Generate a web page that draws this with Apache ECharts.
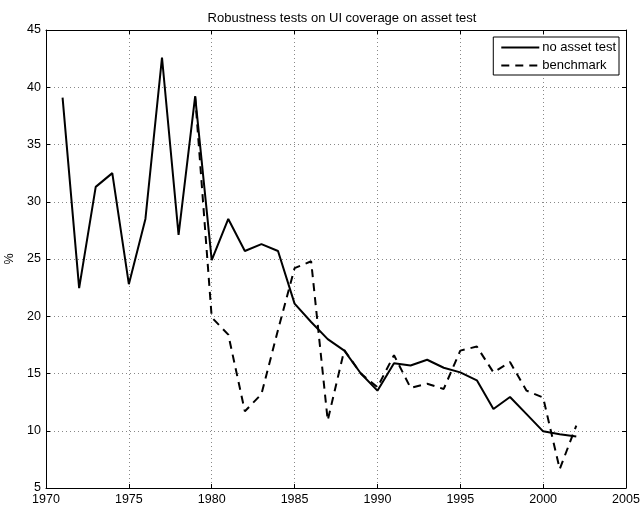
<!DOCTYPE html>
<html><head><meta charset="utf-8">
<script src="https://cdn.jsdelivr.net/npm/echarts@6/dist/echarts.min.js"></script>
<style>html,body{margin:0;padding:0;background:#fff}#c{width:644px;height:510px}</style>
</head><body><div id="c"></div>
<script>
var titleText = 'Robustness tests on UI coverage on asset test';
var seriesNames = ['no asset test', 'benchmark'];
var yearsA = [1971,1972,1973,1974,1975,1976,1977,1978,1979,1980,1981,1982,1983,1984,1985,1986,1987,1988,1989,1990,1991,1992,1993,1994,1995,1996,1997,1998,1999,2000,2001,2002];
var noAssetTest = [39.1,22.45,31.3,32.5,22.8,28.5,42.6,27.1,39.2,24.9,28.5,25.7,26.3,25.7,21.1,19.5,18.0,17.0,15.0,13.5,15.9,15.7,16.2,15.5,15.1,14.4,11.9,12.95,11.45,9.95,9.7,9.5];
var yearsB = [1979,1980,1981,1982,1983,1984,1985,1986,1987,1988,1989,1990,1991,1992,1993,1994,1995,1996,1997,1998,1999,2000,2001,2002];
var benchmark = [39.2,19.9,18.4,11.7,13.2,18.8,24.2,24.8,10.9,17.05,15.0,13.8,16.6,13.75,14.1,13.65,17.0,17.35,15.1,16.0,13.5,12.9,6.65,10.45];
var xTicks = {min:1970, max:2005, interval:5};
var yTicks = {min:5, max:45, interval:5};

function pairs(xs, ys){ return xs.map(function(x,i){ return [x, ys[i]]; }); }

var font = 'Liberation Sans, Arial, Helvetica, sans-serif';
var chart = echarts.init(document.getElementById('c'), null, {renderer:'canvas'});
var baseAxis = function(extra){
  return Object.assign({
    type:'value',
    axisLine:{show:true, onZero:false, lineStyle:{color:'#000', width:1}},
    axisTick:{show:true, inside:true, length:4, lineStyle:{color:'#000'}},
    axisLabel:{show:true, color:'#000', fontFamily:font, fontSize:12.5},
    splitLine:{show:false}
  }, extra);
};
chart.setOption({
  animation:false,
  backgroundColor:'#fff',
  title:{text:titleText, left:337, top:7, textAlign:'center',
    textStyle:{fontFamily:font, fontSize:13, fontWeight:'normal', color:'#000'}},
  grid:{left:46, right:18, top:30, bottom:22, containLabel:false, outerBoundsMode:'none'},
  legend:{
    right:25, top:37, orient:'vertical', itemGap:5, itemWidth:38, itemHeight:10,
    padding:[4,3,3,7], borderColor:'#000', borderWidth:1, backgroundColor:'#fff', borderRadius:0,
    textStyle:{fontFamily:font, fontSize:13, color:'#000', padding:[0,0,0,-2]},
    itemStyle:{opacity:0},
    data:seriesNames
  },
  xAxis:[
    baseAxis({min:xTicks.min, max:xTicks.max, interval:xTicks.interval, position:'bottom',
      axisLabel:{color:'#000', fontFamily:font, fontSize:12.5, margin:5, formatter:function(v){return String(v);}},
      splitLine:{show:true, lineStyle:{color:'#888', type:[1,3], width:1}}}),
    baseAxis({min:xTicks.min, max:xTicks.max, interval:xTicks.interval, position:'top',
      axisLabel:{show:false}})
  ],
  yAxis:[
    baseAxis({min:yTicks.min, max:yTicks.max, interval:yTicks.interval, position:'left',
      name:'%', nameLocation:'middle', nameGap:30, nameMoveOverlap:false,
      nameTextStyle:{fontFamily:font, fontSize:12.5, color:'#000'},
      axisLabel:{color:'#000', fontFamily:font, fontSize:12.5, margin:5},
      splitLine:{show:true, lineStyle:{color:'#888', type:[1,3], width:1}}}),
    baseAxis({min:yTicks.min, max:yTicks.max, interval:yTicks.interval, position:'right',
      axisLabel:{show:false}})
  ],
  series:[
    {name:seriesNames[0], type:'line', data:pairs(yearsA, noAssetTest), showSymbol:false, symbol:'none',
      lineStyle:{color:'#000', width:2, type:'solid'}, itemStyle:{color:'#000'}, z:3},
    {name:seriesNames[1], type:'line', data:pairs(yearsB, benchmark), showSymbol:false, symbol:'none',
      lineStyle:{color:'#000', width:2, type:[8,6]}, itemStyle:{color:'#000'}, z:2}
  ]
});
</script></body></html>
